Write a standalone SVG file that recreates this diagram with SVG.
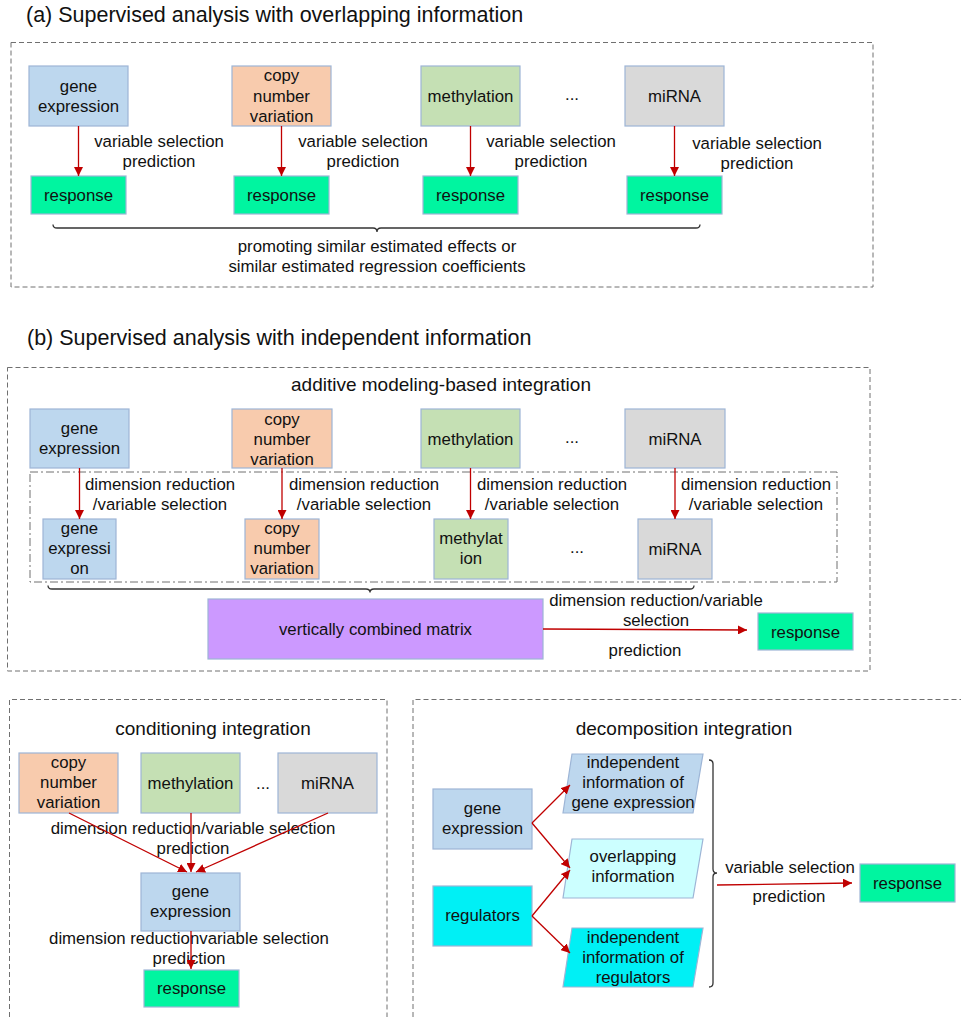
<svg xmlns="http://www.w3.org/2000/svg" width="961" height="1017" viewBox="0 0 961 1017">
<defs>
<style>
text{font-family:"Liberation Sans",Arial,sans-serif;font-size:16.8px;fill:#111;text-anchor:middle}
.title{font-size:21.5px;text-anchor:start}
.sub{font-size:19px}
.frame{fill:none;stroke:#707070;stroke-width:1;stroke-dasharray:5 3}
.inner{fill:none;stroke:#707070;stroke-width:1;stroke-dasharray:8 3 2 3}
.box{stroke:#9DB5D6;stroke-width:1.2}
.ge{fill:#BDD7EE}
.cnv{fill:#F8CBAD}
.met{fill:#C5E0B4}
.mir{fill:#D9D9D9}
.resp{fill:#00F5A0}
.mat{fill:#CC99FF}
.reg{fill:#00F0F5}
.ov{fill:#CCFFFF}
.arr{fill:none;stroke:#C00000;stroke-width:1.3;marker-end:url(#ah)}
.brace{fill:none;stroke:#333;stroke-width:1.3}
</style>
<marker id="ah" viewBox="0 0 10 10" refX="10" refY="5" markerWidth="9" markerHeight="9" markerUnits="userSpaceOnUse" orient="auto">
<path d="M0,0 L10,5 L0,10 z" fill="#C00000"/>
</marker>
</defs>
<rect width="961" height="1017" fill="#fff"/>

<!-- Panel (a) -->
<g id="panel-a">
<text class="title" x="26" y="22">(a) Supervised analysis with overlapping information</text>
<rect class="frame" x="11" y="42.5" width="862" height="244.5"/>
</g>
<g id="a-gene"><rect class="box ge" x="29" y="66" width="99" height="60"/><text x="78.5" y="92">gene</text><text x="78.5" y="112">expression</text></g>
<g id="a-cnv"><rect class="box cnv" x="232" y="66" width="99" height="60"/><text x="281.5" y="81">copy</text><text x="281.5" y="101.5">number</text><text x="281.5" y="122">variation</text></g>
<g id="a-met"><rect class="box met" x="421" y="66" width="99" height="60"/><text x="470.5" y="102">methylation</text></g>
<g id="a-dots"><text x="572" y="100">...</text></g>
<g id="a-mir"><rect class="box mir" x="625" y="66" width="99" height="60"/><text x="674.5" y="102">miRNA</text></g>
<g id="a-resp1"><rect class="box resp" x="31" y="176" width="95" height="38"/><text x="78.5" y="201">response</text></g>
<g id="a-resp2"><rect class="box resp" x="234" y="176" width="95" height="38"/><text x="281.5" y="201">response</text></g>
<g id="a-resp3"><rect class="box resp" x="423" y="176" width="95" height="38"/><text x="470.5" y="201">response</text></g>
<g id="a-resp4"><rect class="box resp" x="627" y="176" width="95" height="38"/><text x="674.5" y="201">response</text></g>
<g id="a-labels">
<text x="159" y="147">variable selection</text><text x="159" y="167">prediction</text>
<text x="363" y="147">variable selection</text><text x="363" y="167">prediction</text>
<text x="551" y="147">variable selection</text><text x="551" y="167">prediction</text>
<text x="757" y="148.5">variable selection</text><text x="757" y="168.5">prediction</text>
<text x="377" y="252">promoting similar estimated effects or</text>
<text x="377" y="272">similar estimated regression coefficients</text>
</g>

<!-- Panel (b) -->
<g id="panel-b">
<text class="title" x="27" y="345">(b) Supervised analysis with independent information</text>
<rect class="frame" x="7.5" y="367.5" width="862.5" height="303.5"/>
<text class="sub" x="441" y="391">additive modeling-based integration</text>
<rect class="inner" x="30" y="472" width="807" height="110"/>
</g>
<g id="b-gene"><rect class="box ge" x="30" y="409" width="99" height="59"/><text x="79.5" y="434">gene</text><text x="79.5" y="454">expression</text></g>
<g id="b-cnv"><rect class="box cnv" x="232" y="409" width="100" height="59"/><text x="282" y="424.5">copy</text><text x="282" y="444.5">number</text><text x="282" y="464.5">variation</text></g>
<g id="b-met"><rect class="box met" x="421" y="409" width="99" height="59"/><text x="470.5" y="444.5">methylation</text></g>
<g id="b-dots1"><text x="572" y="443">...</text></g>
<g id="b-mir"><rect class="box mir" x="625" y="409" width="100" height="59"/><text x="675" y="444.5">miRNA</text></g>
<g id="b-gene2"><rect class="box ge" x="43" y="519" width="73" height="60"/><text x="79.5" y="534">gene</text><text x="79.5" y="554">expressi</text><text x="79.5" y="574">on</text></g>
<g id="b-cnv2"><rect class="box cnv" x="245" y="519" width="74" height="60"/><text x="282" y="534">copy</text><text x="282" y="554">number</text><text x="282" y="574">variation</text></g>
<g id="b-met2"><rect class="box met" x="434" y="519" width="74" height="60"/><text x="471" y="543.5">methylat</text><text x="471" y="563.5">ion</text></g>
<g id="b-dots2"><text x="577" y="553">...</text></g>
<g id="b-mir2"><rect class="box mir" x="638" y="519" width="74" height="60"/><text x="675" y="555">miRNA</text></g>
<g id="b-matrix"><rect class="box mat" x="208" y="599" width="335" height="60"/><text x="375.5" y="634.5">vertically combined matrix</text></g>
<g id="b-resp"><rect class="box resp" x="758" y="613" width="95" height="37"/><text x="805.5" y="637.5">response</text></g>
<g id="b-labels">
<text x="160" y="490">dimension reduction</text><text x="160" y="510">/variable selection</text>
<text x="364" y="490">dimension reduction</text><text x="364" y="510">/variable selection</text>
<text x="552" y="490">dimension reduction</text><text x="552" y="510">/variable selection</text>
<text x="756" y="490">dimension reduction</text><text x="756" y="510">/variable selection</text>
<text x="656" y="606">dimension reduction/variable</text><text x="656" y="626">selection</text>
<text x="645" y="656">prediction</text>
</g>

<!-- Conditioning integration -->
<g id="panel-cond">
<path class="frame" d="M9.5,1017 V699.5 H387 V1017"/>
<text class="sub" x="213" y="735">conditioning integration</text>
</g>
<g id="c-cnv"><rect class="box cnv" x="19" y="753" width="99" height="60"/><text x="68.5" y="768">copy</text><text x="68.5" y="788">number</text><text x="68.5" y="808">variation</text></g>
<g id="c-met"><rect class="box met" x="141" y="753" width="99" height="60"/><text x="190.5" y="789">methylation</text></g>
<g id="c-dots"><text x="263" y="789">...</text></g>
<g id="c-mir"><rect class="box mir" x="278" y="753" width="99" height="60"/><text x="327.5" y="789">miRNA</text></g>
<g id="c-gene"><rect class="box ge" x="141" y="873" width="99" height="58"/><text x="190.5" y="897">gene</text><text x="190.5" y="917">expression</text></g>
<g id="c-resp"><rect class="box resp" x="144" y="970" width="95" height="37"/><text x="191.5" y="994">response</text></g>

<!-- Decomposition integration -->
<g id="panel-dec">
<path class="frame" d="M413,1017 V699.5 H961"/>
<text class="sub" x="684" y="735">decomposition integration</text>
</g>
<g id="d-gene"><rect class="box ge" x="433" y="789" width="99" height="60"/><text x="482.5" y="814">gene</text><text x="482.5" y="834">expression</text></g>
<g id="d-reg"><rect class="box reg" x="433" y="886" width="99" height="60"/><text x="482.5" y="921">regulators</text></g>
<g id="d-indge"><polygon class="box ge" points="572,754 703,754 693,813 563,813"/><text x="633" y="768">independent</text><text x="633" y="788">information of</text><text x="633" y="808">gene expression</text></g>
<g id="d-ov"><polygon class="box ov" points="572,839 703,839 693,898 563,898"/><text x="633" y="862">overlapping</text><text x="633" y="882">information</text></g>
<g id="d-indreg"><polygon class="box reg" points="572,928 703,928 693,987 563,987"/><text x="633" y="943">independent</text><text x="633" y="963">information of</text><text x="633" y="983">regulators</text></g>
<g id="d-resp"><rect class="box resp" x="860" y="864" width="95" height="38"/><text x="907.5" y="889">response</text></g>
<g id="d-labels">
<text x="790" y="873">variable selection</text>
<text x="789" y="902">prediction</text>
</g>
<g id="c-labels">
<text x="193" y="834">dimension reduction/variable selection</text>
<text x="193" y="854">prediction</text>
<text x="189" y="944">dimension reductionvariable selection</text>
<text x="189" y="964">prediction</text>
</g>

<!-- Connectors -->
<g id="connectors">
<line class="arr" x1="78.5" y1="126" x2="78.5" y2="176"/>
<line class="arr" x1="281.5" y1="126" x2="281.5" y2="176"/>
<line class="arr" x1="470.5" y1="126" x2="470.5" y2="176"/>
<line class="arr" x1="674.5" y1="126" x2="674.5" y2="176"/>
<path class="brace" d="M53,224.5 Q53,228 57,228 L373,228 Q377,228 377,232 Q377,228 381,228 L696,228 Q700,228 700,224.5"/>

<line class="arr" x1="79.5" y1="468" x2="79.5" y2="519"/>
<line class="arr" x1="282" y1="468" x2="282" y2="519"/>
<line class="arr" x1="470.5" y1="468" x2="470.5" y2="519"/>
<line class="arr" x1="675" y1="468" x2="675" y2="519"/>
<path class="brace" d="M48,585.5 Q48,589 52,589 L366,589 Q370,589 370,592.5 Q370,589 374,589 L690,589 Q694,589 694,585.5"/>
<line class="arr" x1="543" y1="629" x2="747" y2="630"/>

<line class="arr" x1="69" y1="813" x2="187" y2="872"/>
<line class="arr" x1="191" y1="813" x2="191" y2="872"/>
<line class="arr" x1="328" y1="813" x2="196" y2="872"/>
<line class="arr" x1="191" y1="931" x2="191" y2="969"/>

<line class="arr" x1="532" y1="823" x2="570" y2="785"/>
<line class="arr" x1="532" y1="823" x2="570" y2="868"/>
<line class="arr" x1="532" y1="916" x2="570" y2="870"/>
<line class="arr" x1="532" y1="916" x2="570" y2="953"/>
<path class="brace" d="M709,760 Q713,760 713,764 L713,869 Q713,873 717,873 Q713,873 713,877 L713,983 Q713,987 709,987"/>
<line class="arr" x1="717" y1="885" x2="852" y2="883"/>
</g>
</svg>
